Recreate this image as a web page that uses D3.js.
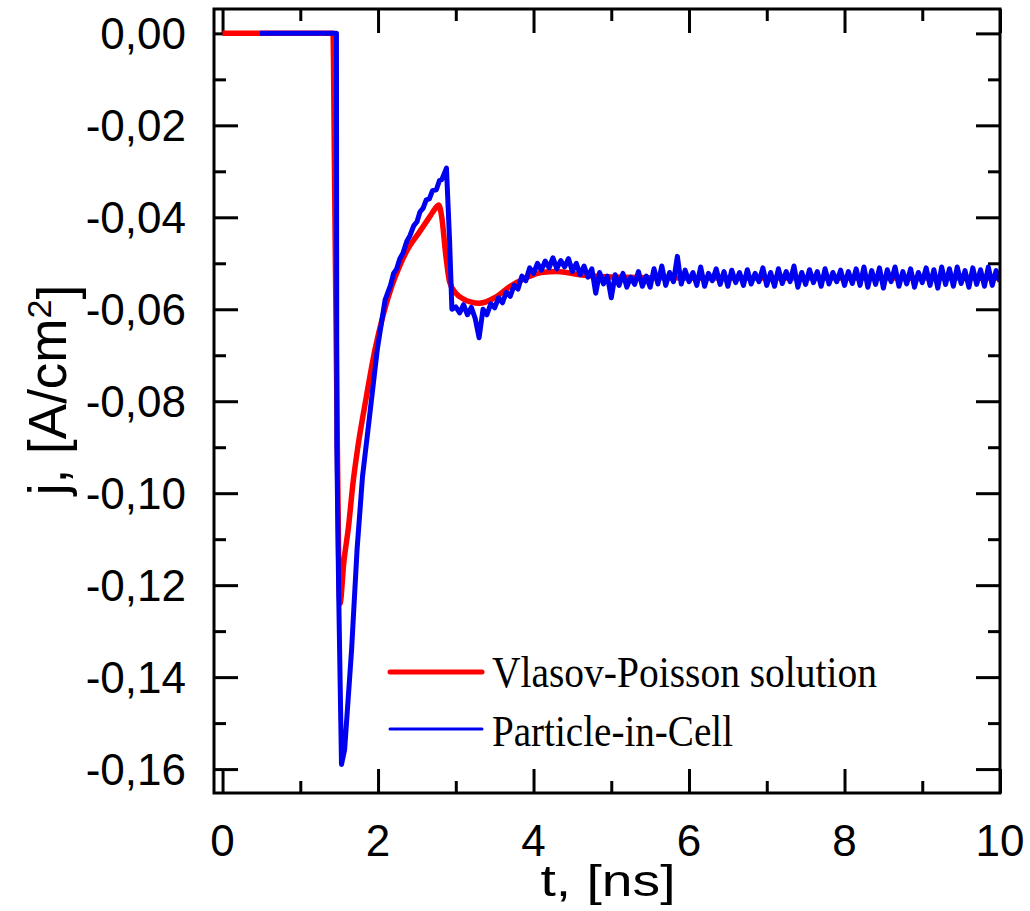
<!DOCTYPE html>
<html>
<head>
<meta charset="utf-8">
<script src="https://cdn.jsdelivr.net/npm/d3@7"></script>
<style>
  body { margin: 0; background: #fff; }
  text { font-family: "Liberation Sans", Arial, sans-serif; }
</style>
</head>
<body>
<svg id="chart" width="1030" height="911"></svg>
<script>
// ---- data ----
// Vlasov-Poisson solution: [t (ns), j (A/cm2)]
const vlasovPoints = [
  [0, 0], [1.42, 0], [1.44, -0.03], [1.47, -0.08], [1.51, -0.124],
  [1.56, -0.115], [1.62, -0.1073], [1.68, -0.0975], [1.74, -0.0900],
  [1.85, -0.079], [1.96, -0.0688], [2.07, -0.061], [2.18, -0.0548],
  [2.28, -0.0505], [2.38, -0.047], [2.52, -0.0435], [2.66, -0.040],
  [2.74, -0.038], [2.78, -0.0373], [2.82, -0.040], [2.87, -0.048],
  [2.92, -0.054], [3.0, -0.0565], [3.1, -0.0578], [3.3, -0.0587],
  [3.5, -0.0575], [3.7, -0.055], [3.9, -0.0532], [4.1, -0.052],
  [4.3, -0.0518], [4.6, -0.0525], [5, -0.053], [6, -0.0532],
  [8, -0.0532], [10, -0.0532]
]

// Particle-in-Cell, first part: [t, j]
const picHead = [
  [0.48, 0], [1.465, 0], [1.47, -0.09], [1.495, -0.123], [1.53, -0.159],
  [1.57, -0.1558], [1.66, -0.134], [1.73, -0.1123], [1.80, -0.0964],
  [1.89, -0.0834], [1.99, -0.0688], [2.09, -0.058], [2.16, -0.0548],
  [2.20, -0.0522], [2.24, -0.0512], [2.28, -0.0490], [2.32, -0.0478],
  [2.37, -0.0452], [2.41, -0.0440], [2.46, -0.0418], [2.50, -0.0410],
  [2.54, -0.0388], [2.58, -0.0380], [2.62, -0.0362], [2.66, -0.0360],
  [2.70, -0.0342], [2.75, -0.0340], [2.79, -0.0320], [2.82, -0.0318],
  [2.88, -0.0293], [2.92, -0.045], [2.95, -0.0600]
]

// Particle-in-Cell, noisy tail sampled every 0.05 ns from 3.00 to 10.00
const picTailStart = 3.0
const picTailStep = 0.05
const picTail = [
  -0.0595, -0.0608, -0.0590, -0.0612, -0.0596, -0.0620, -0.0662, -0.0600, -0.0612, -0.0588,
  -0.0597, -0.0575, -0.0586, -0.0563, -0.0572, -0.0548, -0.0556, -0.0528, -0.0538, -0.0510,
  -0.0522, -0.0500, -0.0515, -0.0495, -0.0510, -0.0488, -0.0512, -0.0494, -0.0508, -0.0490,
  -0.0518, -0.0500, -0.0525, -0.0506, -0.0530, -0.0512, -0.0565, -0.0520, -0.0545, -0.0528,
  -0.0575, -0.0525, -0.0548, -0.0522, -0.0552, -0.0530, -0.0546, -0.0518, -0.0550, -0.0528,
  -0.0552, -0.0512, -0.0545, -0.0506, -0.0548, -0.0520, -0.0540, -0.0485, -0.0545, -0.0515,
  -0.0540, -0.0520, -0.0548, -0.0508, -0.0550, -0.0522, -0.0538, -0.0512, -0.0546, -0.0518,
  -0.0550, -0.0515, -0.0542, -0.0520, -0.0548, -0.0514, -0.0545, -0.0522, -0.0540, -0.0510,
  -0.0548, -0.0520, -0.0550, -0.0512, -0.0544, -0.0518, -0.0540, -0.0506, -0.0552, -0.0520,
  -0.0546, -0.0514, -0.0542, -0.0518, -0.0550, -0.0512, -0.0545, -0.0520, -0.0540, -0.0515,
  -0.0548, -0.0518, -0.0544, -0.0512, -0.0548, -0.0508, -0.0552, -0.0516, -0.0546, -0.0510,
  -0.0554, -0.0514, -0.0540, -0.0508, -0.0550, -0.0518, -0.0545, -0.0512, -0.0552, -0.0520,
  -0.0542, -0.0510, -0.0548, -0.0514, -0.0554, -0.0508, -0.0546, -0.0512, -0.0550, -0.0508,
  -0.0544, -0.0516, -0.0552, -0.0510, -0.0546, -0.0514, -0.0550, -0.0508, -0.0548, -0.0516,
  -0.0540
]

const xTicks = [0, 2, 4, 6, 8, 10]
const xMinorTicks = [1, 3, 5, 7, 9]
const yTicks = [0, -0.02, -0.04, -0.06, -0.08, -0.10, -0.12, -0.14, -0.16]
const yMinorTicks = [-0.01, -0.03, -0.05, -0.07, -0.09, -0.11, -0.13, -0.15]
const seriesNames = ["Vlasov-Poisson solution", "Particle-in-Cell"]
const seriesColors = ["#ff0000", "#0000f0"]

// ---- layout ----
let margin = { top: 9, right: 30, bottom: 118, left: 214 }
let width = 1030
let height = 911

let svg = d3.select("#chart")

let x = d3.scaleLinear()
    .domain([-0.11, 10.0])
    .range([margin.left, width - margin.right])

let y = d3.scaleLinear()
    .domain([-0.1652, 0.0053])
    .range([height - margin.bottom, margin.top])

let commaLocale = d3.formatLocale({ decimal: ",", thousands: " ", grouping: [3], currency: ["", ""], minus: "-" })
let fmtY = commaLocale.format(".2f")

let plotBottom = height - margin.bottom
let plotRight = width - margin.right

// ticks pointing inward on all four sides
let majorLen = 24, minorLen = 12

svg.append("g").call(d3.axisBottom(x).tickValues(xTicks).tickSize(-majorLen).tickFormat(""))
    .attr("transform", `translate(0, ${plotBottom})`)
svg.append("g").call(d3.axisBottom(x).tickValues(xMinorTicks).tickSize(-minorLen).tickFormat(""))
    .attr("transform", `translate(0, ${plotBottom})`)
svg.append("g").call(d3.axisTop(x).tickValues(xTicks).tickSize(-majorLen).tickFormat(""))
    .attr("transform", `translate(0, ${margin.top})`)
svg.append("g").call(d3.axisTop(x).tickValues(xMinorTicks).tickSize(-minorLen).tickFormat(""))
    .attr("transform", `translate(0, ${margin.top})`)
svg.append("g").call(d3.axisLeft(y).tickValues(yTicks).tickSize(-majorLen).tickFormat(""))
    .attr("transform", `translate(${margin.left}, 0)`)
svg.append("g").call(d3.axisLeft(y).tickValues(yMinorTicks).tickSize(-minorLen).tickFormat(""))
    .attr("transform", `translate(${margin.left}, 0)`)
svg.append("g").call(d3.axisRight(y).tickValues(yTicks).tickSize(-majorLen).tickFormat(""))
    .attr("transform", `translate(${plotRight}, 0)`)
svg.append("g").call(d3.axisRight(y).tickValues(yMinorTicks).tickSize(-minorLen).tickFormat(""))
    .attr("transform", `translate(${plotRight}, 0)`)

svg.selectAll(".domain").remove()
svg.selectAll(".tick line").style("stroke", "black").style("stroke-width", 3)

// tick labels
svg.append("g").selectAll("text")
    .data(xTicks)
    .join("text")
    .attr("x", d => x(d))
    .attr("y", plotBottom + 63)
    .attr("text-anchor", "middle")
    .style("font-size", "44px")
    .text(d => d)

svg.append("g").selectAll("text")
    .data(yTicks)
    .join("text")
    .attr("x", 186)
    .attr("y", d => y(d))
    .attr("dy", "0.36em")
    .attr("text-anchor", "end")
    .style("font-size", "44px")
    .text(d => fmtY(Math.abs(d) < 1e-9 ? 0 : d))

// axis titles
svg.append("text")
    .attr("x", 608)
    .attr("y", 896)
    .attr("text-anchor", "middle")
    .attr("textLength", 135)
    .attr("lengthAdjust", "spacingAndGlyphs")
    .style("font-size", "45px")
    .text("t, [ns]")

let yTitle = svg.append("text")
    .attr("transform", `translate(66, 390) rotate(-90)`)
    .attr("text-anchor", "middle")
    .style("font-size", "53px")
yTitle.append("tspan").text("j, [A/cm")
yTitle.append("tspan").attr("dy", "-0.45em").style("font-size", "34px").text("2")
yTitle.append("tspan").attr("dy", "0.45em").text("]")

// curves
let redLine = d3.line()
    .x(d => x(d[0]))
    .y(d => y(d[1]))
    .curve(d3.curveMonotoneX)

let line = d3.line()
    .x(d => x(d[0]))
    .y(d => y(d[1]))

let picPoints = picHead.concat(picTail.map((v, i) => [picTailStart + i * picTailStep, v]))

let clip = svg.append("clipPath").attr("id", "plot-clip")
    .append("rect")
    .attr("x", margin.left).attr("y", margin.top)
    .attr("width", plotRight - margin.left).attr("height", plotBottom - margin.top)

let curves = svg.append("g").attr("clip-path", "url(#plot-clip)")

curves.append("path")
    .datum(vlasovPoints)
    .attr("d", redLine)
    .style("fill", "none")
    .style("stroke", seriesColors[0])
    .style("stroke-width", 5.5)
    .style("stroke-linejoin", "round")

curves.append("path")
    .datum(picPoints)
    .attr("d", line)
    .style("fill", "none")
    .style("stroke", seriesColors[1])
    .style("stroke-width", 5)
    .style("stroke-linejoin", "round")

// frame
svg.append("rect")
    .attr("x", margin.left)
    .attr("y", margin.top)
    .attr("width", plotRight - margin.left)
    .attr("height", plotBottom - margin.top)
    .style("fill", "none")
    .style("stroke", "black")
    .style("stroke-width", 3)

// legend
let legendRows = [
    { name: seriesNames[0], color: seriesColors[0], w: 5, ly: 672, ty: 687, len: 385 },
    { name: seriesNames[1], color: seriesColors[1], w: 3, ly: 729, ty: 746, len: 241 }
]
let legend = svg.append("g")
legend.selectAll("line")
    .data(legendRows)
    .join("line")
    .attr("x1", 390).attr("x2", 482)
    .attr("y1", d => d.ly).attr("y2", d => d.ly)
    .style("stroke", d => d.color)
    .style("stroke-width", d => d.w)
    .style("stroke-linecap", "round")
legend.selectAll("text")
    .data(legendRows)
    .join("text")
    .attr("x", 492)
    .attr("y", d => d.ty)
    .attr("textLength", d => d.len)
    .attr("lengthAdjust", "spacingAndGlyphs")
    .style("font-family", "'Liberation Serif', 'Times New Roman', serif")
    .style("font-size", "44px")
    .text(d => d.name)
</script>
</body>
</html>
